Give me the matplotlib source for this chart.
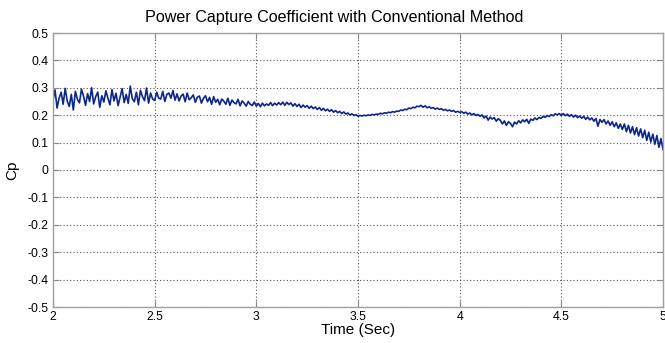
import numpy as np
import matplotlib
matplotlib.use("Agg")
import matplotlib.pyplot as plt

plt.rcParams['font.family'] = ['Liberation Sans', 'DejaVu Sans']

title = "Power Capture Coefficient with Conventional Method"
xlabel = "Time (Sec)"
ylabel = "Cp"
t_start, t_end, t_step = 2.0, 5.0, 0.01

cp = [
    0.255, 0.292, 0.226, 0.262, 0.284, 0.240, 0.298, 0.251, 0.232, 0.276,
    0.219, 0.287, 0.258, 0.245, 0.295, 0.270, 0.236, 0.279, 0.250, 0.300,
    0.241, 0.268, 0.284, 0.229, 0.271, 0.248, 0.289, 0.262, 0.238, 0.293,
    0.252, 0.280, 0.235, 0.266, 0.297, 0.246, 0.276, 0.243, 0.306, 0.260,
    0.249, 0.284, 0.238, 0.291, 0.268, 0.253, 0.299, 0.244, 0.281, 0.259,
    0.254, 0.284, 0.262, 0.259, 0.287, 0.250, 0.276, 0.281, 0.262, 0.290,
    0.255, 0.278, 0.252, 0.270, 0.277, 0.249, 0.281, 0.256, 0.264, 0.274,
    0.247, 0.266, 0.270, 0.244, 0.262, 0.271, 0.249, 0.265, 0.240, 0.268,
    0.247, 0.258, 0.238, 0.259, 0.251, 0.240, 0.262, 0.236, 0.255, 0.246,
    0.241, 0.258, 0.234, 0.252, 0.244, 0.233, 0.250, 0.240, 0.235, 0.248,
    0.233, 0.243, 0.231, 0.244, 0.234, 0.241, 0.236, 0.246, 0.235, 0.244,
    0.237, 0.246, 0.238, 0.248, 0.236, 0.247, 0.239, 0.245, 0.233, 0.242,
    0.232, 0.240, 0.228, 0.237, 0.229, 0.235, 0.225, 0.233, 0.224, 0.230,
    0.221, 0.228, 0.218, 0.225, 0.216, 0.222, 0.214, 0.220, 0.211, 0.217,
    0.209, 0.214, 0.206, 0.212, 0.204, 0.208, 0.201, 0.205, 0.199, 0.202,
    0.196, 0.199, 0.197, 0.200, 0.198, 0.201, 0.199, 0.203, 0.201, 0.204,
    0.203, 0.207, 0.205, 0.209, 0.207, 0.211, 0.209, 0.213, 0.211, 0.215,
    0.214, 0.219, 0.217, 0.222, 0.220, 0.226, 0.224, 0.229, 0.227, 0.233,
    0.231, 0.236, 0.229, 0.234, 0.227, 0.231, 0.225, 0.228, 0.222, 0.226,
    0.221, 0.224, 0.218, 0.221, 0.216, 0.219, 0.214, 0.217, 0.211, 0.214,
    0.210, 0.213, 0.207, 0.211, 0.204, 0.208, 0.201, 0.206, 0.199, 0.203,
    0.196, 0.201, 0.190, 0.197, 0.182, 0.193, 0.186, 0.191, 0.178, 0.187,
    0.181, 0.168, 0.179, 0.163, 0.176, 0.170, 0.158, 0.175, 0.168, 0.180,
    0.172, 0.183, 0.176, 0.185, 0.170, 0.186, 0.181, 0.190, 0.184, 0.192,
    0.188, 0.196, 0.192, 0.199, 0.195, 0.202, 0.198, 0.205, 0.201, 0.206,
    0.199, 0.206, 0.198, 0.204, 0.196, 0.202, 0.193, 0.200, 0.191, 0.197,
    0.189, 0.196, 0.185, 0.193, 0.183, 0.190, 0.178, 0.188, 0.160, 0.184,
    0.174, 0.184, 0.168, 0.179, 0.163, 0.176, 0.158, 0.172, 0.152, 0.168,
    0.148, 0.168, 0.140, 0.163, 0.135, 0.158, 0.129, 0.154, 0.124, 0.150,
    0.118, 0.145, 0.108, 0.138, 0.102, 0.131, 0.094, 0.126, 0.083, 0.115,
    0.075,
]
xticks = [2, 2.5, 3, 3.5, 4, 4.5, 5]
xticklabels = ["2", "2.5", "3", "3.5", "4", "4.5", "5"]
yticks = [-0.5, -0.4, -0.3, -0.2, -0.1, 0, 0.1, 0.2, 0.3, 0.4, 0.5]
yticklabels = ["-0.5", "-0.4", "-0.3", "-0.2", "-0.1", "0", "0.1", "0.2", "0.3", "0.4", "0.5"]

t = t_start + t_step * np.arange(len(cp))

fig = plt.figure(figsize=(6.65, 3.43), dpi=100)
ax = fig.add_axes([53/665, 36/343, 610/665, 274/343])
ax.plot(t, cp, color='#0d2689', linewidth=1.2)
ax.set_xlim(2, 5)
ax.set_ylim(-0.5, 0.5)
ax.set_xticks(xticks)
ax.set_xticklabels(xticklabels)
ax.set_yticks(yticks)
ax.set_yticklabels(yticklabels)
ax.grid(True, linestyle=(0, (1, 2)), color='#555555', linewidth=0.8)
ax.tick_params(direction='in', length=4, width=0.8, color='#888888', labelsize=8.8,
               top=True, right=True, pad=3)
for s in ax.spines.values():
    s.set_color('#a0a0a0')
    s.set_linewidth(1.0)
ax.set_title(title, fontsize=11.6, pad=8, x=0.461)
ax.set_xlabel(xlabel, fontsize=11, labelpad=0)
ax.set_ylabel(ylabel, fontsize=11, labelpad=6)
fig.savefig("out.png", dpi=100)
